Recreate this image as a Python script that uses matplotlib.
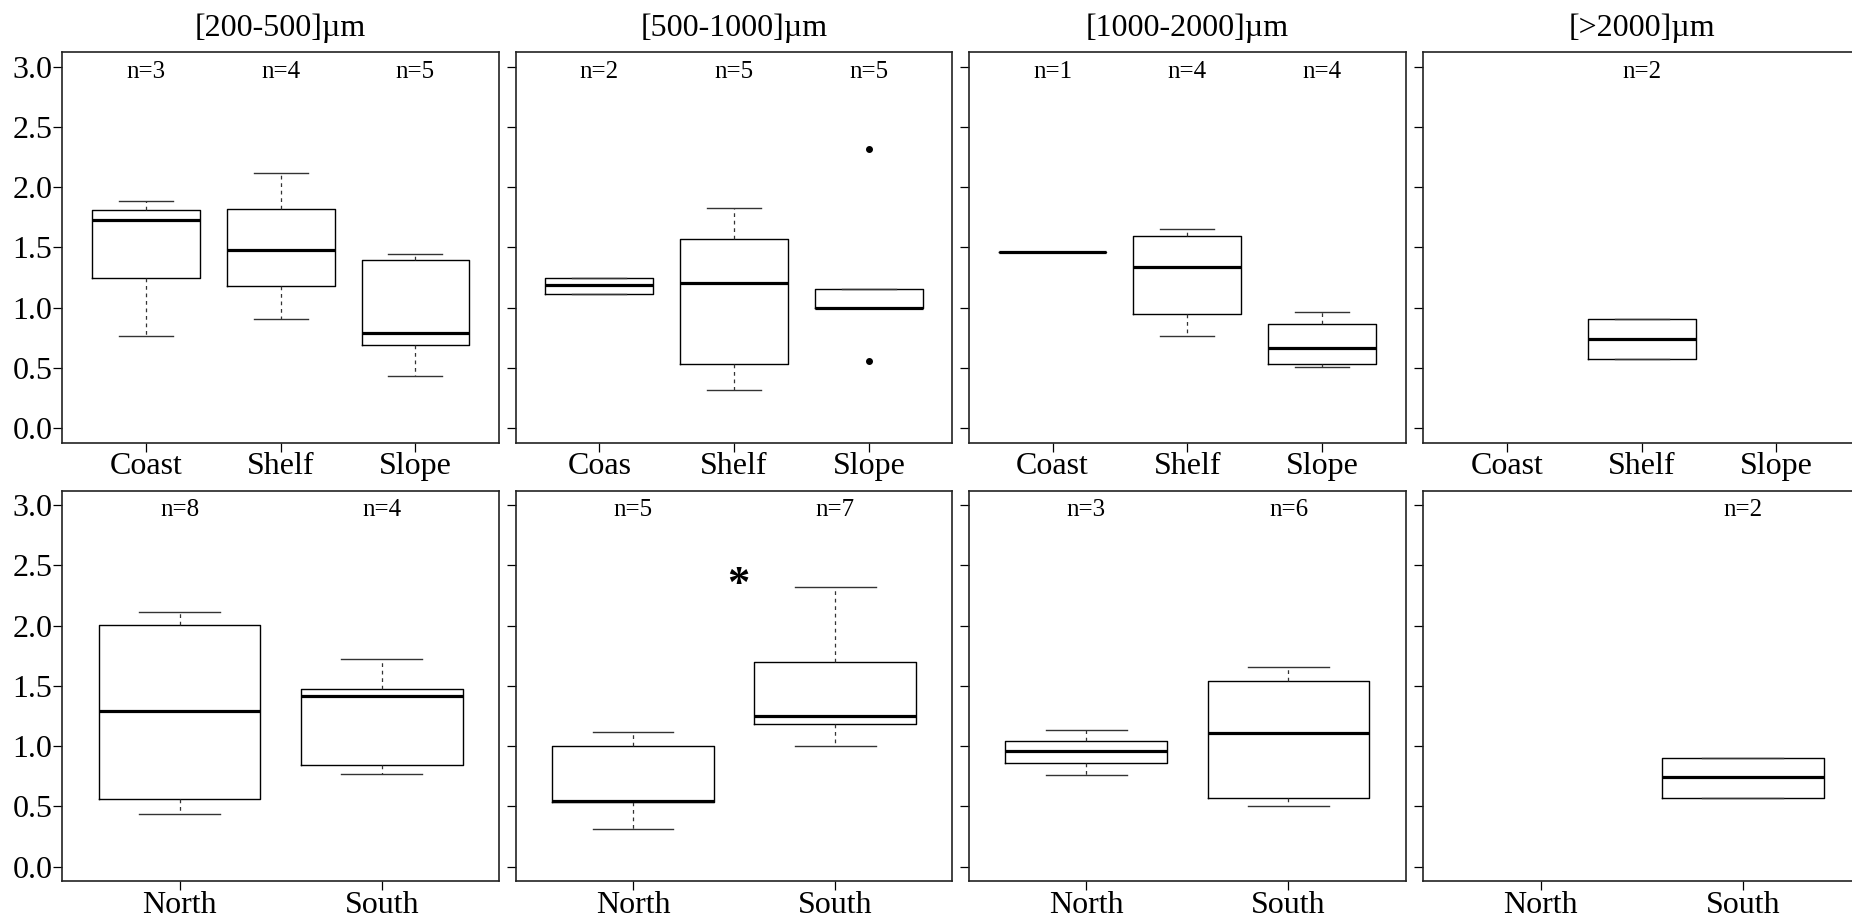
import matplotlib
matplotlib.use('Agg')
import matplotlib.pyplot as plt

plt.rcParams['font.family'] = ['Liberation Serif', 'DejaVu Serif']

W, H = 1852, 917

titles = ['[200-500]\u00b5m', '[500-1000]\u00b5m', '[1000-2000]\u00b5m', '[>2000]\u00b5m']

# top row: zone (coast / shelf / slope)
zone_labels = [['Coast', 'Shelf', 'Slope'],
               ['Coas', 'Shelf', 'Slope'],
               ['Coast', 'Shelf', 'Slope'],
               ['Coast', 'Shelf', 'Slope']]
# five-number summaries: (low whisker, q1, median, q3, high whisker)
zone_stats = [
    [(0.767, 1.246, 1.726, 1.808, 1.889), (0.903, 1.177, 1.482, 1.817, 2.116), (0.435, 0.690, 0.787, 1.396, 1.443)],
    [(1.116, 1.116, 1.186, 1.249, 1.249), (0.319, 0.537, 1.208, 1.568, 1.831), (1.000, 1.000, 1.000, 1.158, 1.158)],
    [(1.463, 1.463, 1.463, 1.463, 1.463), (0.762, 0.947, 1.335, 1.598, 1.657), (0.507, 0.537, 0.662, 0.861, 0.964)],
    [None, (0.571, 0.571, 0.740, 0.903, 0.903), None],
]
zone_fliers = [[[], [], []], [[], [], [0.557, 2.321]], [[], [], []], [[], [], []]]
zone_n = [[3, 4, 5], [2, 5, 5], [1, 4, 4], [0, 2, 0]]

# bottom row: north / south
ns_labels = ['North', 'South']
ns_stats = [
    [(0.434, 0.561, 1.288, 2.002, 2.112), (0.769, 0.846, 1.413, 1.476, 1.722)],
    [(0.315, 0.536, 0.547, 0.998, 1.114), (0.998, 1.183, 1.247, 1.695, 2.317)],
    [(0.760, 0.860, 0.962, 1.042, 1.131), (0.506, 0.567, 1.109, 1.540, 1.656)],
    [None, (0.570, 0.570, 0.741, 0.904, 0.904)],
]
ns_n = [[8, 4], [5, 7], [3, 6], [0, 2]]
star_panel, star_x, star_y = 1, 1.52, 2.34

yticks = [0.0, 0.5, 1.0, 1.5, 2.0, 2.5, 3.0]

lefts = [62.3, 515.7, 969.0, 1423.3]
pw, ph = 436.7, 390.4
bottoms = [H - 442.7, H - 881.0]

fig = plt.figure(figsize=(W / 100, H / 100), dpi=100)


def draw_panel(ax, stats, fliers, ns, labels):
    k = len(labels)
    pos, bxs = [], []
    for i, s in enumerate(stats):
        if s is None:
            continue
        lo, q1, med, q3, hi = s
        bxs.append(dict(whislo=lo, q1=q1, med=med, q3=q3, whishi=hi, fliers=fliers[i]))
        pos.append(i + 1)
    ax.bxp(bxs, positions=pos, widths=0.8, capwidths=0.4, showfliers=True,
           boxprops=dict(color='black', lw=1.0),
           medianprops=dict(color='black', lw=2.3, solid_capstyle='butt'),
           whiskerprops=dict(color='#333333', lw=0.9, linestyle=(0, (3, 3))),
           capprops=dict(color='#333333', lw=1.0),
           flierprops=dict(marker='o', markersize=4, markerfacecolor='black',
                           markeredgecolor='black'))
    for i, n in enumerate(ns):
        if n > 0:
            ax.text(i + 1, 2.96, 'n=%d' % n, ha='center', va='center', fontsize=18)
    ax.set_xlim(0.5 - 0.04 * k, k + 0.5 + 0.04 * k)
    ax.set_ylim(-0.12, 3.12)
    ax.set_xticks(range(1, k + 1))
    ax.set_xticklabels(labels, fontsize=23)
    ax.set_yticks(yticks)
    ax.tick_params(direction='out', length=6.5, width=0.9, pad=0.5)
    for sp in ax.spines.values():
        sp.set_linewidth(1.2)
        sp.set_color('#222222')


for c in range(4):
    ax = fig.add_axes([lefts[c] / W, bottoms[0] / H, pw / W, ph / H])
    draw_panel(ax, zone_stats[c], zone_fliers[c], zone_n[c], zone_labels[c])
    ax.set_title(titles[c], fontsize=23, pad=12)
    if c == 0:
        ax.set_yticklabels(['%.1f' % v for v in yticks], fontsize=23)
    else:
        ax.set_yticklabels([])

    ax2 = fig.add_axes([lefts[c] / W, bottoms[1] / H, pw / W, ph / H])
    draw_panel(ax2, ns_stats[c], [[], []], ns_n[c], ns_labels)
    if c == 0:
        ax2.set_yticklabels(['%.1f' % v for v in yticks], fontsize=23)
    else:
        ax2.set_yticklabels([])
    if c == star_panel:
        ax2.text(star_x, star_y, '*', ha='center', va='center', fontsize=32,
                 fontweight='bold')

fig.savefig('out.png', dpi=100)
